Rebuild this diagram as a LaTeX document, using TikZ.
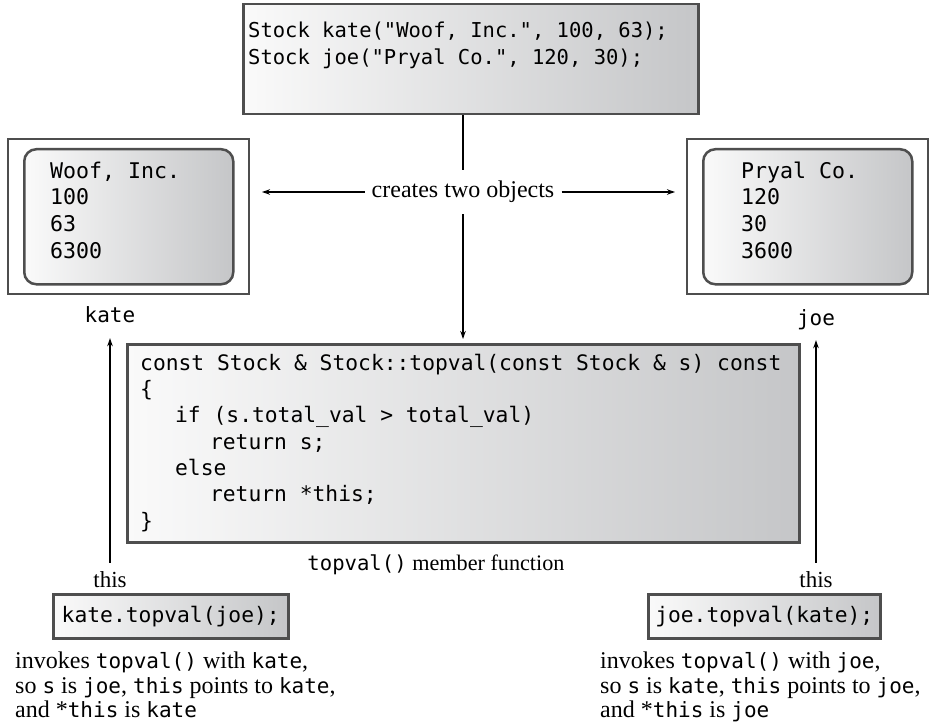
\documentclass[tikz,border=0pt]{standalone}
\usepackage{fontspec}
\setmainfont{Liberation Serif}
\setmonofont{DejaVu Sans Mono}
\usetikzlibrary{arrows.meta}
\definecolor{gL}{RGB}{250,250,250}
\definecolor{gR}{RGB}{197,198,200}
\definecolor{bd}{RGB}{78,78,78}
\newcommand{\cftop}{\ttfamily\fontsize{20.5}{27}\selectfont}
\newcommand{\cfobj}{\ttfamily\fontsize{21.6}{26.7}\selectfont}
\newcommand{\cfcode}{\ttfamily\fontsize{21.3}{26.35}\selectfont}
\newcommand{\cfcall}{\ttfamily\fontsize{21.3}{26}\selectfont}
\newcommand{\tm}[1]{{\ttfamily\fontsize{21}{24.8}\selectfont #1}}
\newcommand{\tmc}[1]{{\ttfamily\fontsize{20.6}{25}\selectfont #1}}
\newcommand{\sr}{\fontsize{24}{24.8}\selectfont}
\newcommand{\st}{\rule{0pt}{17pt}}
\begin{document}
\begin{tikzpicture}[x=1pt,y=-1pt,
  codebox/.style={draw=bd, line width=2.5pt, left color=gL, right color=gR, anchor=north west, inner sep=0pt},
  objbox/.style={draw=bd, line width=2pt, fill=white, anchor=north west, inner sep=0pt, minimum width=241pt, minimum height=155pt},
  objin/.style={codebox, rounded corners=12pt, minimum width=209pt, minimum height=135pt},
  codetext/.style={align=left, anchor=north west, inner sep=0pt},
  lbl/.style={font=\ttfamily\fontsize{21}{25}\selectfont, inner sep=0pt, anchor=base, text height=15pt, text depth=5pt},
  serif/.style={font=\sr, inner sep=0pt},
  arr/.style={line width=1.1pt, -{Stealth[length=8pt,width=5.5pt]}},
  ln/.style={line width=1.1pt}
]
\useasboundingbox (0,0) rectangle (937,722);

% top declaration box
\node[codebox, minimum width=455pt, minimum height=110pt] (top) at (242,3) {};
\node[codetext, font=\cftop] (toptext) at (248,20) {\st Stock kate("Woof, Inc.", 100, 63);\\Stock joe("Pryal Co.", 120, 30);};

% kate object
\node[objbox] (kateouter) at (7,138) {};
\node[objin] (kateinner) at (23,148) {};
\node[codetext, font=\cfobj] (katetext) at (50,161) {\st Woof, Inc.\\100\\63\\6300};
\node[lbl] (kateL) at (110,322) {kate};

% joe object
\node[objbox] (joeouter) at (686,138) {};
\node[objin] (joeinner) at (702,148) {};
\node[codetext, font=\cfobj] (joetext) at (741,161) {\st Pryal Co.\\120\\30\\3600};
\node[lbl] (joeL) at (816,325) {joe};

% creates label
\node[serif, inner xsep=7pt, minimum height=44pt] (creates) at (463,192) {creates two objects};

% member function box
\node[codebox, minimum width=672pt, minimum height=198pt] (code) at (126,343) {};
\node[codetext, font=\cfcode] (codetxt) at (140,353) {\st const Stock \& Stock::topval(const Stock \& s) const\\
\{\\
\hspace*{3ex}if (s.total\_val > total\_val)\\
\hspace*{6ex}return s;\\
\hspace*{3ex}else\\
\hspace*{6ex}return *this;\\
\}};
\node[serif, font=\fontsize{22.2}{25}\selectfont, anchor=base] (caption) at (436,570) {\tmc{topval()} member function};

% this labels
\node[serif, font=\fontsize{23}{25}\selectfont, anchor=base, text height=15pt] (thisL) at (110,587) {this};
\node[serif, font=\fontsize{23}{25}\selectfont, anchor=base, text height=15pt] (thisR) at (816,587) {this};

% call boxes
\node[codebox, minimum width=235pt, minimum height=44pt] (callL) at (52,593) {};
\node[font=\cfcall, inner sep=0pt] (callLt) at (callL.center) {kate.topval(joe);};
\node[codebox, minimum width=232pt, minimum height=44pt] (callR) at (647,593) {};
\node[font=\cfcall, inner sep=0pt] (callRt) at (callR.center) {joe.topval(kate);};

% explanations
\node[serif, align=left, anchor=north west] (expL) at (15,650) {\rule{0pt}{18pt}invokes \tm{topval()} with \tm{kate},\\so \tm{s} is \tm{joe}, \tm{this} points to \tm{kate},\\and *\tm{this} is \tm{kate}};
\node[serif, align=left, anchor=north west] (expR) at (600,650) {\rule{0pt}{18pt}invokes \tm{topval()} with \tm{joe},\\so \tm{s} is \tm{kate}, \tm{this} points to \tm{joe},\\and *\tm{this} is \tm{joe}};

% connectors
\draw[ln] (creates.north |- top.south) -- (creates.north);
\draw[arr, shorten >=12pt] (creates.west) -- (creates.west -| kateouter.east);
\draw[arr, shorten >=11pt] (creates.east) -- (creates.east -| joeouter.west);
\draw[arr, shorten >=4pt] (creates.south) -- (creates.south |- code.north);
\draw[arr, shorten <=9pt, shorten >=11pt] (thisL.north) -- (kateL.south);
\draw[arr, shorten <=9pt, shorten >=10pt] (thisR.north) -- (joeL.south);
\end{tikzpicture}
\end{document}
